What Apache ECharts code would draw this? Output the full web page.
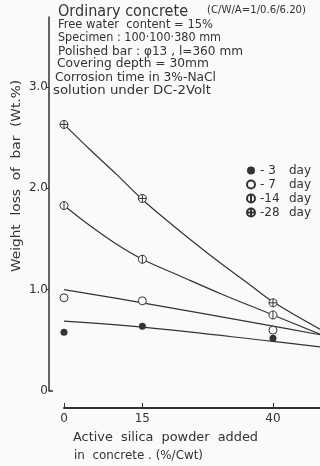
<!DOCTYPE html>
<html>
<head>
<meta charset="utf-8">
<script src="https://cdn.jsdelivr.net/npm/echarts@6/dist/echarts.min.js"></script>
<style>
html,body{margin:0;padding:0;background:#fafafa;}
#c{width:320px;height:466px;}
</style>
</head>
<body>
<div id="c"></div>
<script>
// ---- data ----
const silica = [0, 15, 40];               // % / Cwt
const day3  = [0.58, 0.64, 0.52];
const day7  = [0.92, 0.89, 0.60];
const day14 = [1.83, 1.30, 0.75];
const day28 = [2.63, 1.90, 0.87];

// fitted curves, points: [x, y]
const fit3  = [[0, 0.69], [15, 0.63], [40, 0.49], [49, 0.435]];
const fit7  = [[0, 1.00], [15, 0.87], [40, 0.64], [49, 0.555]];
const fit14 = [[0, 1.83], [5, 1.63], [10, 1.45], [15, 1.30], [22, 1.14], [30, 0.96], [40, 0.75], [49, 0.56]];
const fit28 = [[0, 2.63], [5, 2.38], [10, 2.14], [15, 1.89], [20, 1.67], [25, 1.46], [30, 1.26], [35, 1.07], [40, 0.88], [49, 0.61]];

const yTicks = [1, 2, 3];
const yLabels = [0, 1, 2, 3];
const xTicks = [0, 15, 40];
const seriesNames = ['3', '7', '14', '28'];

const titleText = 'Ordinary concrete';
const ratioText = '(C/W/A=1/0.6/6.20)';
const headerLines = [
  'Free water  content = 15%',
  'Specimen : 100\u00b7100\u00b7380 mm',
  'Polished bar : \u03c613 , l=360 mm',
  'Covering depth = 30mm',
  'Corrosion time in 3%-NaCl',
  'solution under DC-2Volt'
];
const yName = 'Weight  loss  of  bar  (Wt.%)';
const xNameLines = ['Active  silica  powder  added', 'in  concrete . (%/Cwt)'];

// ---- styling / layout ----
const ink = '#333';
const bg = '#fafafa';
const font = '"DejaVu Sans", sans-serif';
const circ = 'M0,-1 C0.5523,-1 1,-0.5523 1,0 C1,0.5523 0.5523,1 0,1 C-0.5523,1 -1,0.5523 -1,0 C-1,-0.5523 -0.5523,-1 0,-1 Z';
const symV = 'path://' + circ + ' M0,-1 L0,1';
const symX = 'path://' + circ + ' M0,-1 L0,1 M-1,0 L1,0';

const ctx = document.createElement('canvas').getContext('2d');
function measure(t, f) { ctx.font = f; return ctx.measureText(t).width; }
// text placed from x0 to x1 (horizontally stretched to that span), centred on y
function span(t, size, x0, x1, y) {
  const f = size + 'px ' + font;
  return {type: 'text', x: x0, y: y, scaleX: (x1 - x0) / measure(t, f), originX: 0,
    style: {text: t, fill: ink, font: f, verticalAlign: 'middle', align: 'left'}};
}

function pts(ys) { return silica.map((x, i) => [x, ys[i]]); }

const chart = echarts.init(document.getElementById('c'), null, {renderer: 'canvas'});

const headerPos = [[58, 213, 25], [58, 221, 38], [58, 243, 52], [57, 209, 64], [55, 216, 78], [53, 211, 91]];
const headerGraphics = headerLines.map((t, i) => span(t, 12, headerPos[i][0], headerPos[i][1], headerPos[i][2]));

const yNameFont = '13px ' + font;
const yNameScale = (272 - 80) / measure(yName, yNameFont);

chart.setOption({
  backgroundColor: bg,
  animation: false,
  grid: {left: 64, right: 0, top: 17, bottom: 75},
  xAxis: {
    type: 'value', min: 0, max: 49, offset: 17,
    axisLine: {onZero: false, lineStyle: {color: ink, width: 2}},
    axisTick: {inside: true, length: 5, customValues: xTicks, lineStyle: {color: ink, width: 1}},
    axisLabel: {customValues: xTicks, color: ink, fontFamily: font, fontSize: 12, margin: 5},
    splitLine: {show: false}
  },
  yAxis: [{
    type: 'value', min: 0, max: 3.69, position: 'left', offset: 15,
    axisLine: {show: true, onZero: false, lineStyle: {color: ink, width: 1.5}},
    axisTick: {show: true, length: 3, customValues: yTicks, lineStyle: {color: ink}},
    axisLabel: {customValues: yLabels, color: ink, fontFamily: font, fontSize: 12, margin: 1,
      formatter: v => v === 0 ? '0' : v.toFixed(1)},
    splitLine: {show: false}
  }, {
    type: 'value', min: 0, max: 3.69, position: 'left', offset: 15,
    axisLine: {show: false, onZero: false},
    axisTick: {show: true, inside: true, length: 4, customValues: [0], lineStyle: {color: ink, width: 1.5}},
    axisLabel: {show: false},
    splitLine: {show: false}
  }],
  legend: {
    data: seriesNames,
    orient: 'vertical',
    left: 241, top: 159,
    itemWidth: 8, itemHeight: 8, itemGap: 1,
    selectedMode: false,
    formatter: n => '{a|-}{n|' + n + '}{d|day}',
    textStyle: {
      color: ink, fontFamily: font, fontSize: 12, lineHeight: 13,
      rich: {
        a: {width: 5, fontSize: 12, fontFamily: font, color: ink},
        n: {width: 14, align: 'right', fontSize: 12, fontFamily: font, color: ink},
        d: {padding: [0, 0, 0, 10], fontSize: 12, fontFamily: font, color: ink}
      }
    }
  },
  series: [
    {type: 'line', data: fit3, smooth: 0.4, showSymbol: false, silent: true, lineStyle: {color: ink, width: 1.2}},
    {type: 'line', data: fit7, smooth: 0.4, showSymbol: false, silent: true, lineStyle: {color: ink, width: 1.2}},
    {type: 'line', data: fit14, smooth: 0.4, showSymbol: false, silent: true, lineStyle: {color: ink, width: 1.2}},
    {type: 'line', data: fit28, smooth: 0.4, showSymbol: false, silent: true, lineStyle: {color: ink, width: 1.2}},
    {name: '3', type: 'scatter', data: pts(day3), symbol: 'circle', symbolSize: 7, itemStyle: {color: ink, opacity: 1}, z: 5},
    {name: '7', type: 'scatter', data: pts(day7), symbol: 'circle', symbolSize: 8, itemStyle: {color: bg, borderColor: ink, borderWidth: 1, opacity: 1}, z: 5},
    {name: '14', type: 'scatter', data: pts(day14), symbol: symV, symbolSize: 8, itemStyle: {color: bg, borderColor: ink, borderWidth: 1, opacity: 1}, z: 5},
    {name: '28', type: 'scatter', data: pts(day28), symbol: symX, symbolSize: 8, itemStyle: {color: bg, borderColor: ink, borderWidth: 1, opacity: 1}, z: 5}
  ],
  graphic: [
    span(titleText, 16, 58, 188, 12),
    span(ratioText, 10, 207, 306, 10),
    ...headerGraphics,
    {type: 'text', x: 17, y: 176, rotation: Math.PI / 2, scaleX: yNameScale,
      style: {text: yName, fill: ink, font: yNameFont, align: 'center', verticalAlign: 'middle'}},
    span(xNameLines[0], 13, 73, 258, 438),
    span(xNameLines[1], 13, 74, 203, 456)
  ]
});
</script>
</body>
</html>
